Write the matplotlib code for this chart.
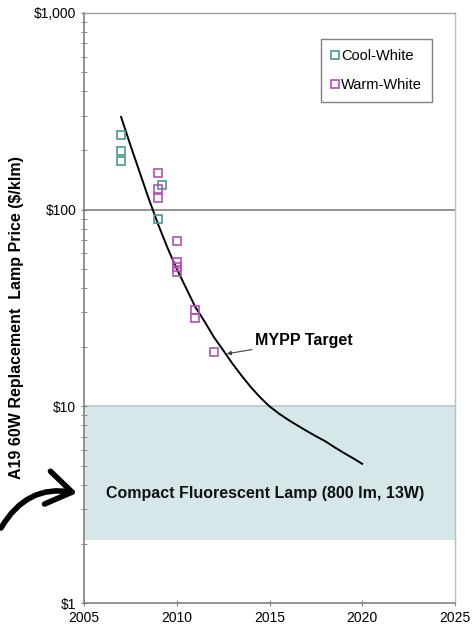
import matplotlib
matplotlib.use("Agg")
import matplotlib.pyplot as plt
from matplotlib.patches import FancyArrowPatch
import numpy as np

plt.rcParams['font.family'] = ['Liberation Sans', 'DejaVu Sans']

cool_years = [2007, 2007, 2007, 2009.2, 2009]
cool_prices = [240, 199, 177, 134, 90]
warm_years = [2009, 2009, 2009, 2010, 2010, 2010, 2010, 2011, 2011, 2012]
warm_prices = [154, 128, 114, 69, 54, 51, 48, 31, 28, 19]
target_years = [2007, 2007.5, 2008, 2008.5, 2009, 2009.5, 2010, 2010.5, 2011, 2011.5, 2012,
                2012.5, 2013, 2013.5, 2014, 2014.5, 2015, 2015.5, 2016, 2016.5, 2017,
                2017.5, 2018, 2018.5, 2019, 2019.5, 2020]
target_prices = [296, 213, 155, 113, 84, 64, 50, 40, 32, 27, 22.5,
                 19.3, 16.5, 14.3, 12.5, 11.1, 10.0, 9.2, 8.55, 8.0, 7.5,
                 7.05, 6.65, 6.2, 5.8, 5.45, 5.1]
cfl_low, cfl_high = 2.09, 10
yticks = [1, 10, 100, 1000]
ytick_labels = ["$1", "$10", "$100", "$1,000"]
xticks = [2005, 2010, 2015, 2020, 2025]

fig = plt.figure(figsize=(4.72, 6.33), dpi=100)
ax = fig.add_axes([84/472, 1-603/633, (455-84)/472, (603-13)/633])

ax.set_yscale('log')
ax.set_xlim(2005, 2025)
ax.set_ylim(1, 1000)

ax.axhspan(cfl_low, cfl_high, color='#d6e7ea', zorder=0, lw=0)
ax.axhline(100, color='#808080', lw=1.2, zorder=1)
ax.axhline(10, color='#b8c8cc', lw=1.2, zorder=1)

ax.plot(target_years, target_prices, color='black', lw=1.4, zorder=3)
ax.plot(cool_years, cool_prices, 's', mfc='none', mec='#4a9696', ms=6, mew=1.2,
        ls='none', label='Cool-White', zorder=4)
ax.plot(warm_years, warm_prices, 's', mfc='none', mec='#b050b8', ms=6, mew=1.2,
        ls='none', label='Warm-White', zorder=4)

ax.annotate('MYPP Target', xy=(2012.7, 18.5), xytext=(2014.2, 21.5),
            fontsize=11.5, fontweight='bold', va='center', ha='left',
            arrowprops=dict(arrowstyle='-|>', color='#404040', lw=0.8,
                            shrinkA=0, shrinkB=0, mutation_scale=6))

ax.text(2006.2, 3.6, 'Compact Fluorescent Lamp (800 lm, 13W)', fontsize=11.5,
        fontweight='bold', va='center', ha='left', color='#111111')

ax.set_yticks(yticks)
ax.set_yticklabels(ytick_labels)
ax.set_xticks(xticks)
ax.tick_params(axis='both', labelsize=10, color='#808080', length=4, direction='inout')
ax.tick_params(axis='y', which='minor', length=4, color='#808080', direction='inout')
ax.yaxis.set_minor_formatter(matplotlib.ticker.NullFormatter())

for s in ['left', 'bottom']:
    ax.spines[s].set_color('#808080')
    ax.spines[s].set_linewidth(1.2)
for s in ['top', 'right']:
    ax.spines[s].set_color('#c0c0c0')
    ax.spines[s].set_linewidth(1.0)
ax.spines['top'].set_color('#a0a0a0')

leg = ax.legend(loc='upper right', bbox_to_anchor=(0.958, 0.968), fontsize=10.5,
                handlelength=0.5, handletextpad=0.15, borderpad=0.7, labelspacing=1.0,
                fancybox=False, edgecolor='#808080', framealpha=1)
leg.get_frame().set_linewidth(1.0)

fig.text(17/472, 1-318/633, 'A19 60W Replacement  Lamp Price ($/klm)', rotation=90,
         fontsize=11.5, fontweight='bold', va='center', ha='center')

arr = FancyArrowPatch(posA=(1/472, 1-528/633), posB=(77/472, 1-493/633),
                      transform=fig.transFigure, arrowstyle='->,head_length=9,head_width=6',
                      connectionstyle='arc3,rad=-0.35', lw=4, color='black',
                      mutation_scale=2, shrinkA=0, shrinkB=0)
fig.patches.append(arr)

fig.savefig('out.png', dpi=100)
